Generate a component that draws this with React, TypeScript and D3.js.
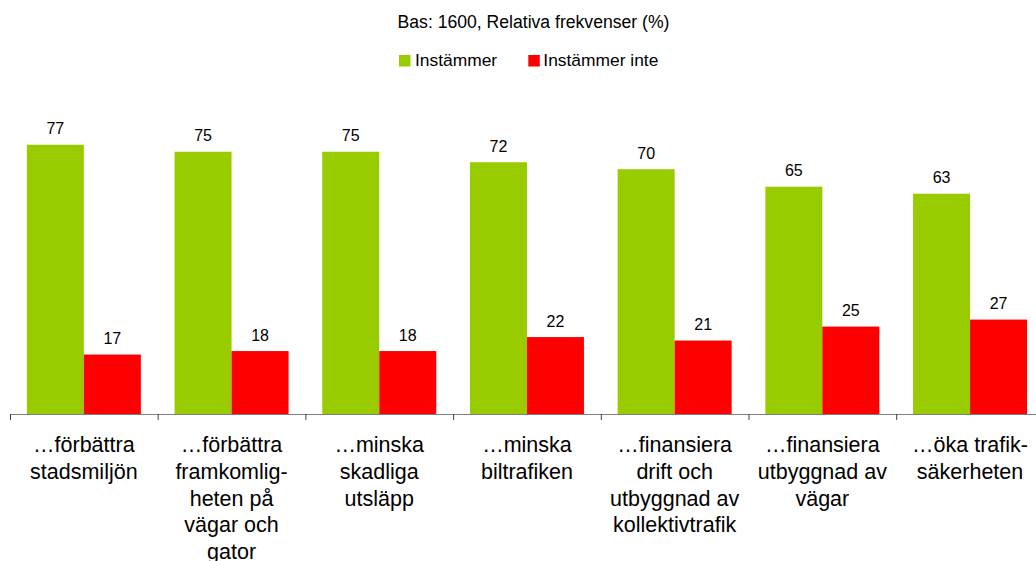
import React from "react";
import * as d3 from "d3";

const categories: string[][] = [
  ["…förbättra", "stadsmiljön"],
  ["…förbättra", "framkomlig-", "heten på", "vägar och", "gator"],
  ["…minska", "skadliga", "utsläpp"],
  ["…minska", "biltrafiken"],
  ["…finansiera", "drift och", "utbyggnad av", "kollektivtrafik"],
  ["…finansiera", "utbyggnad av", "vägar"],
  ["…öka trafik-", "säkerheten"],
];
const seriesNames = ["Instämmer", "Instämmer inte"];
const agree = [77, 75, 75, 72, 70, 65, 63];
const disagree = [17, 18, 18, 22, 21, 25, 27];
const colors = ["#99CC00", "#FF0000"];
const title = "Bas: 1600, Relativa frekvenser (%)";

const FONT = "'Liberation Sans', Arial, sans-serif";

export default function App() {
  const W = 1036, H = 561;
  const axisY = 414;
  const left = 10, bandW = 147.7;
  const ids = categories.map((_, i) => String(i));
  const x0 = d3.scaleBand<string>().domain(ids).range([left, left + bandW * categories.length]);
  const x1 = d3.scaleBand<string>().domain(seriesNames).range([16.85, 16.85 + 114]);
  const y = d3.scaleLinear().domain([0, 100]).range([axisY, axisY - 349.7]);
  const values = [agree, disagree];

  return (
    <svg width={W} height={H} style={{ position: "absolute", left: 0, top: 0, background: "#fff" }} fontFamily={FONT}>
      <text x={533.5} y={28.3} textAnchor="middle" fontSize={17.6} fill="#000">{title}</text>
      {/* legend */}
      <rect x={399} y={55} width={11.5} height={11.5} fill={colors[0]} />
      <text x={415} y={65.7} fontSize={17.4} fill="#000">{seriesNames[0]}</text>
      <rect x={528.3} y={55} width={11.5} height={11.5} fill={colors[1]} />
      <text x={543.3} y={65.7} fontSize={17.4} fill="#000">{seriesNames[1]}</text>

      {values.map((vals, s) =>
        vals.map((v, i) => {
          const bx = (x0(ids[i]) as number) + (x1(seriesNames[s]) as number);
          const bw = x1.bandwidth();
          return (
            <g key={`${s}-${i}`}>
              <rect x={bx} y={y(v)} width={bw} height={axisY - y(v)} fill={colors[s]} />
              <text x={bx + bw / 2} y={y(v) - 10.5} textAnchor="middle" fontSize={16} fill="#000">{v}</text>
            </g>
          );
        })
      )}

      <line x1={left} x2={W} y1={axisY + 0.5} y2={axisY + 0.5} stroke="#808080" strokeWidth={1} />
      {ids.map((id) => (
        <line key={id} x1={(x0(id) as number) + 0.5} x2={(x0(id) as number) + 0.5} y1={axisY} y2={axisY + 6} stroke="#404040" strokeWidth={1} />
      ))}

      {categories.map((lines, i) => {
        const cx = (x0(ids[i]) as number) + x0.bandwidth() / 2;
        return (
          <text key={i} textAnchor="middle" fontSize={21.5} fill="#000">
            {lines.map((ln, j) => (
              <tspan key={j} x={cx} y={452.3 + j * 26.7}>{ln}</tspan>
            ))}
          </text>
        );
      })}
    </svg>
  );
}
